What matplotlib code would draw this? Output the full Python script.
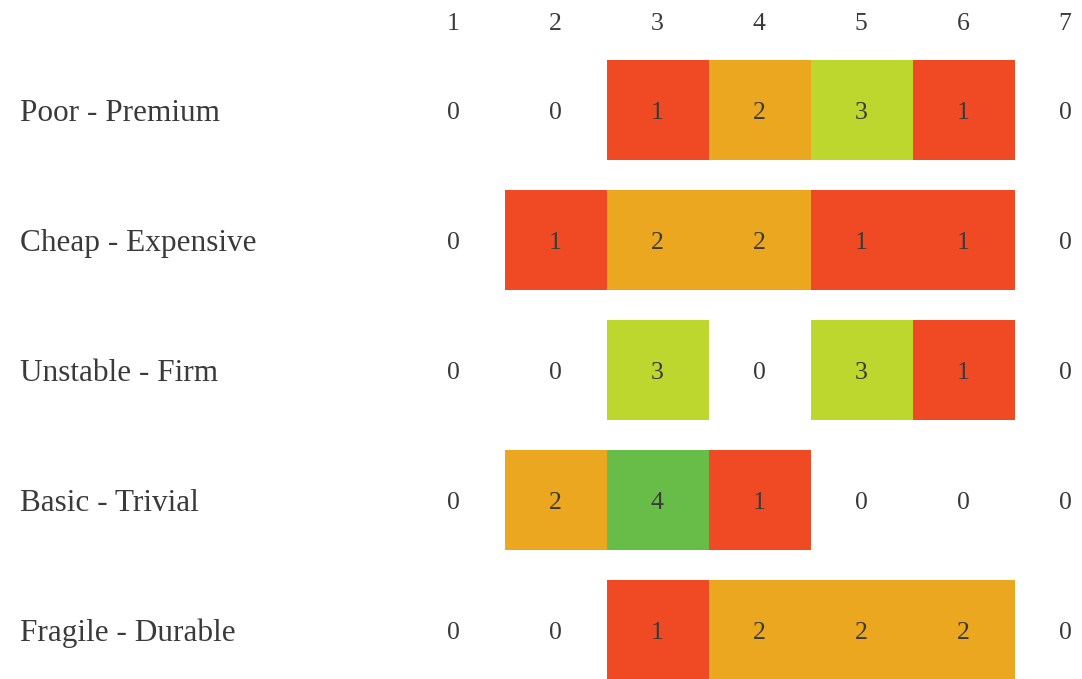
import numpy as np
import matplotlib.pyplot as plt

# Escala de 1 a 7 y pares de adjetivos
scale_points = [1, 2, 3, 4, 5, 6, 7]
pairs = ['Poor - Premium', 'Cheap - Expensive', 'Unstable - Firm',
         'Basic - Trivial', 'Fragile - Durable']
counts = np.array([
    [0, 0, 1, 2, 3, 1, 0],
    [0, 1, 2, 2, 1, 1, 0],
    [0, 0, 3, 0, 3, 1, 0],
    [0, 2, 4, 1, 0, 0, 0],
    [0, 0, 1, 2, 2, 2, 0],
])

# color segun numero de respuestas
count_colors = {1: '#F04A24', 2: '#ECA720', 3: '#BED72E', 4: '#68BC48'}
text_color = '#3a3a3a'
font = 'Liberation Serif'
dy = 0.025  # bajar un poco el texto

fig = plt.figure(figsize=(10.82, 6.79), dpi=100)
ax = fig.add_axes([0, 0, 1, 1])

cell_h = 100 / 130
for r, row in enumerate(counts):
    for x, n in zip(scale_points, row):
        if n > 0:
            ax.bar(x + 0.005, cell_h, bottom=r - cell_h / 2, width=1.0,
                   color=count_colors[n], linewidth=0)
        ax.text(x, r + dy, str(n), ha='center', va='center', fontsize=18.5,
                family=font, color=text_color)
    ax.text(-3.245, r + dy, pairs[r], ha='left', va='center', fontsize=22.5,
            family=font, color=text_color)

for x in scale_points:
    ax.text(x, -0.69 + dy, str(x), ha='center', va='center', fontsize=18.5,
            family=font, color=text_color)

ax.set_xlim(1 - 453 / 102, 1 - 453 / 102 + 1082 / 102)
ax.set_ylim((679 - 110) / 130, -110 / 130)
ax.axis('off')

fig.savefig('out.png', dpi=100)
